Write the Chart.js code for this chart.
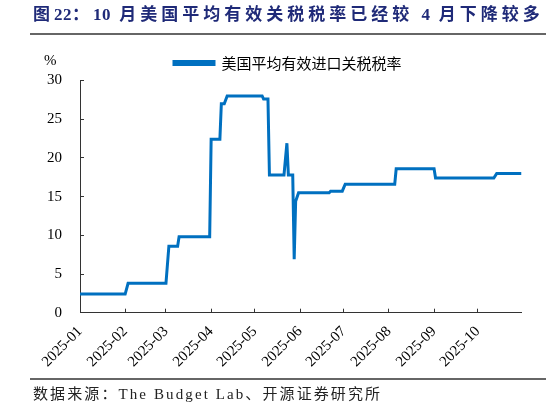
<!DOCTYPE html>
<html>
<head>
<meta charset="utf-8">
<script src="https://cdn.jsdelivr.net/npm/chart.js@4.4.1/dist/chart.umd.min.js"></script>
<style>
  html, body { margin: 0; padding: 0; background: #fff; }
  #wrap { position: relative; width: 546px; height: 410px; overflow: hidden; }
  #chart { position: absolute; left: 0; top: 0; }
  .txt { position: absolute; white-space: nowrap; font-family: "Liberation Serif", "Noto Sans CJK SC", serif; }
  #title { left: 33px; top: 5px; font-size: 17px; line-height: 20px; font-weight: bold; letter-spacing: 4px; color: #1f2a78; }
  #title .n { letter-spacing: 0.5px; }
  #unit { left: 44px; top: 51px; font-size: 15px; line-height: 18px; color: #000; }
  #source { left: 33px; top: 385px; font-size: 15px; line-height: 18px; letter-spacing: 2.1px; color: #222; }
  .rule { position: absolute; left: 30px; width: 516px; height: 1.5px; background: #666; }
</style>
</head>
<body>
<div id="wrap">
  <canvas id="chart" width="546" height="410"></canvas>
  <div class="txt" id="title">图<span class="n">22</span>：<span class="n">10</span> 月美国平均有效关税税率已经较 <span class="n">4</span> 月下降较多</div>
  <div class="rule" style="top:33px"></div>
  <div class="txt" id="unit">%</div>
  <div class="rule" style="top:378px"></div>
  <div class="txt" id="source">数据来源：The Budget Lab、开源证券研究所</div>
</div>
<script>
// 折线拐点日期与对应税率（%）
const dates = ['2025-01-01', '2025-02-01', '2025-02-03', '2025-03-01', '2025-03-03', '2025-03-09', '2025-03-10',
  '2025-03-31', '2025-04-01', '2025-04-07', '2025-04-08', '2025-04-10', '2025-04-12', '2025-05-06', '2025-05-07',
  '2025-05-10', '2025-05-11', '2025-05-21', '2025-05-23', '2025-05-24', '2025-05-27', '2025-05-28', '2025-05-29',
  '2025-05-31', '2025-06-21', '2025-06-22', '2025-06-30', '2025-07-02', '2025-08-05', '2025-08-06', '2025-09-01',
  '2025-09-02', '2025-10-12', '2025-10-14', '2025-10-31'];
const tariffRate = [2.4, 2.4, 3.8, 3.8, 8.6, 8.6, 9.8, 9.8, 22.4, 22.4, 27.0, 27.0, 28.0, 28.0, 27.6, 27.6, 17.8,
  17.8, 21.9, 17.8, 17.8, 6.9, 14.4, 15.5, 15.5, 15.7, 15.7, 16.6, 16.6, 18.6, 18.6, 17.4, 17.4, 18.0, 18.0];

// x轴刻度标签（每月1日）
const monthLabels = ['2025-01', '2025-02', '2025-03', '2025-04', '2025-05', '2025-06', '2025-07', '2025-08', '2025-09', '2025-10'];
const yTicks = [0, 5, 10, 15, 20, 25, 30];

// 日期转为当年第几天
function dayIndex(s) {
  const [y, m, d] = s.split('-').map(Number);
  return (Date.UTC(y, m - 1, d) - Date.UTC(2025, 0, 1)) / 86400000;
}

const points = dates.map((d, i) => ({ x: dayIndex(d), y: tariffRate[i] }));
const monthTicks = monthLabels.map(l => dayIndex(l + '-01'));
const axisColor = '#333';

// 图例整体右移，使其居中于绘图区上方
const legendShift = {
  id: 'legendShift',
  afterLayout(chart) {
    chart.legend.left += 27;
    chart.legend.right += 27;
  }
};

new Chart(document.getElementById('chart').getContext('2d'), {
  type: 'line',
  data: {
    datasets: [{
      label: '美国平均有效进口关税税率',
      data: points,
      borderColor: '#0070c0',
      backgroundColor: '#0070c0',
      borderWidth: 3,
      pointRadius: 0,
      tension: 0,
      fill: false
    }]
  },
  options: {
    responsive: false,
    animation: false,
    layout: { padding: { left: 0, right: 24.5, top: 2, bottom: 0 } },
    scales: {
      x: {
        type: 'linear',
        min: 0,
        max: dayIndex('2025-10-31'),
        afterBuildTicks: s => { s.ticks = monthTicks.map(v => ({ value: v })); },
        afterFit: s => { s.height = 97.3; },
        border: { color: axisColor, width: 1 },
        grid: { drawOnChartArea: false, tickLength: -4, color: axisColor },
        ticks: {
          autoSkip: false,
          minRotation: 45,
          maxRotation: 45,
          padding: 14,
          color: '#000',
          font: { family: 'Liberation Serif', size: 15 },
          callback: v => monthLabels[monthTicks.indexOf(v)]
        }
      },
      y: {
        min: 0,
        max: 30,
        afterBuildTicks: s => { s.ticks = yTicks.map(v => ({ value: v })); },
        afterFit: s => { s.width = 80; },
        border: { color: axisColor, width: 1 },
        grid: { drawOnChartArea: false, tickLength: -4, color: axisColor },
        ticks: {
          padding: 22,
          color: '#000',
          font: { family: 'Liberation Serif', size: 15 }
        }
      }
    },
    plugins: {
      legend: {
        display: true,
        position: 'top',
        labels: {
          boxWidth: 40,
          boxHeight: 3,
          padding: 53.5,
          color: '#000',
          font: { family: 'Noto Sans CJK SC', size: 15 }
        }
      },
      tooltip: { enabled: false }
    }
  },
  plugins: [legendShift]
});
</script>
</body>
</html>
